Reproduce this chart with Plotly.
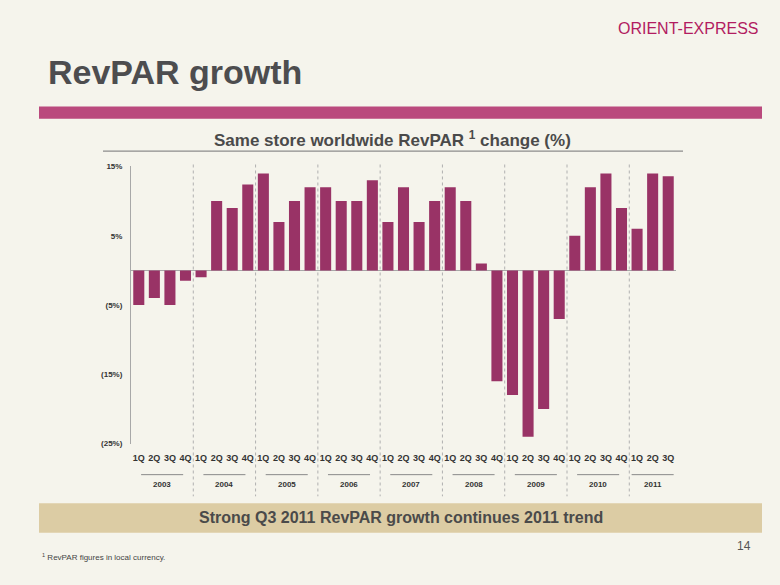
import plotly.graph_objects as go

# ---- data ----
quarters = ["1Q", "2Q", "3Q", "4Q"] * 8 + ["1Q", "2Q", "3Q"]
years = ["2003", "2004", "2005", "2006", "2007", "2008", "2009", "2010", "2011"]
quarters_per_year = [4, 4, 4, 4, 4, 4, 4, 4, 3]
revpar_change = [
    -5, -4, -5, -1.5,      # 2003
    -1, 10, 9, 12.4,       # 2004
    14, 7, 10, 12,         # 2005
    12, 10, 10, 13,        # 2006
    7, 12, 7, 10,          # 2007
    12, 10, 1, -16,        # 2008
    -18, -24, -20, -7,     # 2009
    5, 12, 14, 9,          # 2010
    6, 14, 13.6,           # 2011
]
y_tick_vals = [15, 5, -5, -15, -25]
y_tick_text = ["15%", "5%", "(5%)", "(15%)", "(25%)"]

W, H = 780, 585
BG = "#f5f4ec"
BAR = "#993366"
FONT = "Liberation Sans, Arial, sans-serif"


def px(x):
    return x / W


def py(y):
    return 1 - y / H


x_idx = list(range(len(revpar_change)))

fig = go.Figure()
fig.add_trace(go.Bar(
    x=x_idx, y=revpar_change, width=0.71,
    marker=dict(color=BAR, line=dict(width=0)),
    hoverinfo="y", showlegend=False,
))

shapes = []
annotations = []

# year boundaries, underlines and labels
start = 0
for yr, n in zip(years, quarters_per_year):
    center = start + (n - 1) / 2
    shapes.append(dict(type="line", xref="x", yref="paper",
                       x0=center - 1.35, x1=center + 1.35,
                       y0=py(478), y1=py(478),
                       line=dict(color="#8a8a8a", width=1)))
    annotations.append(dict(x=center, y=py(488), xref="x", yref="paper",
                            text=yr, showarrow=False,
                            font=dict(family=FONT, size=8, color="#333333", weight="bold"),
                            xanchor="center", yanchor="middle"))
    if start > 0:
        shapes.append(dict(type="line", xref="x", yref="paper",
                           x0=start - 0.5, x1=start - 0.5,
                           y0=py(163), y1=py(500),
                           line=dict(color="#b0b0b0", width=1, dash="dot")))
    start += n

# decorative slide elements
shapes += [
    dict(type="rect", xref="paper", yref="paper",
         x0=px(39), x1=px(762), y0=py(104), y1=py(116.5),
         fillcolor="#ba497d", line=dict(width=0), layer="below"),
    dict(type="line", xref="paper", yref="paper",
         x0=px(103), x1=px(683), y0=py(149.5), y1=py(149.5),
         line=dict(color="#8c8c8c", width=1.2)),
    dict(type="rect", xref="paper", yref="paper",
         x0=px(39), x1=px(762), y0=py(507), y1=py(537),
         fillcolor="#dccca4", line=dict(width=0), layer="below"),
]

annotations += [
    dict(x=px(760), y=py(25), xref="paper", yref="paper", text="ORIENT-EXPRESS",
         showarrow=False, xanchor="right", yanchor="middle",
         font=dict(family=FONT, size=16, color="#b21c61")),
    dict(x=px(46), y=py(69), xref="paper", yref="paper", text="RevPAR growth",
         showarrow=False, xanchor="left", yanchor="middle",
         font=dict(family=FONT, size=34, color="#4d4d4f", weight="bold")),
    dict(x=px(392), y=py(137), xref="paper", yref="paper",
         text="Same store worldwide RevPAR <sup>1</sup> change (%)",
         showarrow=False, xanchor="center", yanchor="middle",
         font=dict(family=FONT, size=17, color="#4a4a4a", weight="bold")),
    dict(x=px(401), y=py(522), xref="paper", yref="paper",
         text="Strong Q3 2011 RevPAR growth continues 2011 trend",
         showarrow=False, xanchor="center", yanchor="middle",
         font=dict(family=FONT, size=16, color="#4a4a4a", weight="bold")),
    dict(x=px(753), y=py(550), xref="paper", yref="paper", text="14",
         showarrow=False, xanchor="right", yanchor="middle",
         font=dict(family=FONT, size=12, color="#555555")),
    dict(x=px(40), y=py(562), xref="paper", yref="paper",
         text="<sup>1</sup> RevPAR figures in local currency.",
         showarrow=False, xanchor="left", yanchor="middle",
         font=dict(family=FONT, size=8, color="#444444")),
]

fig.update_layout(
    width=W, height=H,
    margin=dict(l=0, r=0, t=0, b=0),
    paper_bgcolor=BG, plot_bgcolor=BG,
    shapes=shapes,
    annotations=annotations,
    xaxis=dict(
        domain=[px(131), px(676)],
        range=[-0.5, 34.5],
        tickmode="array", tickvals=x_idx, ticktext=quarters,
        tickfont=dict(family=FONT, size=9, color="#333333", weight="bold"),
        showgrid=False, zeroline=False, showline=False, ticks="",
        ticklabelstandoff=7, fixedrange=True,
    ),
    yaxis=dict(
        domain=[py(446.5), py(165)],
        range=[-25, 15],
        tickmode="array", tickvals=y_tick_vals, ticktext=y_tick_text,
        tickfont=dict(family=FONT, size=8, color="#333333", weight="bold"),
        showgrid=False, zeroline=True, zerolinecolor="#a8a8a8", zerolinewidth=1,
        showline=True, linecolor="#a8a8a8", linewidth=1, ticks="",
        ticklabelstandoff=6, fixedrange=True,
    ),
)

fig.write_html(
    "out.html",
    config={"displayModeBar": False},
    post_script="document.body.style.margin='0';document.body.style.overflow='hidden';",
)
